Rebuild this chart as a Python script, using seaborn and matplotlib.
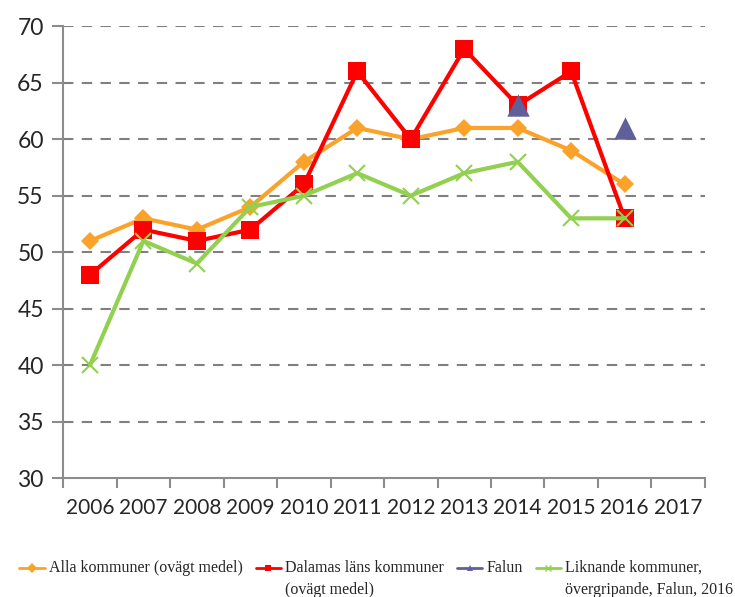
import matplotlib
matplotlib.use("Agg")
import matplotlib.pyplot as plt
from matplotlib.lines import Line2D
from matplotlib.legend_handler import HandlerLine2D
import seaborn as sns
import numpy as np
import pandas as pd

years = ["2006", "2007", "2008", "2009", "2010", "2011",
         "2012", "2013", "2014", "2015", "2016", "2017"]
alla = [51, 53, 52, 54, 58, 61, 60, 61, 61, 59, 56]
dalarna = [48, 52, 51, 52, 56, 66, 60, 68, 63, 66, 53]
falun_years = ["2014", "2016"]
falun = [63, 61]
liknande = [40, 51, 49, 54, 55, 57, 55, 57, 58, 53, 53]

# trailing newline keeps one-line labels level with the first line of the others
labels = ["Alla kommuner (ovägt medel)\n", "Dalamas läns kommuner\n(ovägt medel)",
          "Falun\n", "Liknande kommuner,\növergripande, Falun, 2016"]
colors = ["#FBA22A", "#FF0000", "#5F5F99", "#92D050"]


class TopLineHandler(HandlerLine2D):
    # lift legend handle to first text line
    def create_artists(self, legend, orig_handle, xdescent, ydescent, width,
                       height, fontsize, trans):
        arts = super().create_artists(legend, orig_handle, xdescent, ydescent,
                                      width, height, fontsize, trans)
        for a in arts:
            a.set_ydata(np.asarray(a.get_ydata()) + 0.72 * fontsize)
        return arts


sns.set_style("white")
plt.rcParams["font.family"] = ["Lato", "DejaVu Sans"]

fig = plt.figure(figsize=(7.35, 5.97), dpi=100)
ax = fig.add_axes([0.086, 0.199, 0.873, 0.757])

pos = {y: i for i, y in enumerate(years)}
df_alla = pd.DataFrame({"x": [pos[y] for y in years[:len(alla)]], "v": alla})
df_dal = pd.DataFrame({"x": [pos[y] for y in years[:len(dalarna)]], "v": dalarna})
df_lik = pd.DataFrame({"x": [pos[y] for y in years[:len(liknande)]], "v": liknande})
df_fal = pd.DataFrame({"x": [pos[y] for y in falun_years], "v": falun})

sns.lineplot(data=df_alla, x="x", y="v", ax=ax, color=colors[0], lw=3,
             marker="D", markersize=9, markeredgewidth=0, zorder=3)
sns.lineplot(data=df_dal, x="x", y="v", ax=ax, color=colors[1], lw=3,
             marker="s", markersize=13, markeredgewidth=0, zorder=4)
sns.lineplot(data=df_lik, x="x", y="v", ax=ax, color=colors[3], lw=3,
             marker="x", markersize=11, markeredgewidth=1.5,
             markeredgecolor=colors[3], zorder=5)
sns.scatterplot(data=df_fal, x="x", y="v", ax=ax, color=colors[2],
                marker="^", s=260, linewidth=0, zorder=6)

ax.set_xlim(-0.5, len(years) - 0.5)
ax.set_ylim(30, 70)
ax.set_xticks(range(len(years)))
ax.set_xticklabels(years)
ax.set_xticks(np.arange(-0.5, len(years), 1), minor=True)
ax.set_yticks(range(30, 71, 5))
ax.tick_params(axis="x", which="major", length=0, pad=14, labelsize=15)
ax.tick_params(axis="x", which="minor", length=7, width=1.5, color="#8C8C8C",
               direction="out", bottom=True)
ax.tick_params(axis="y", length=8, width=1.5, color="#8C8C8C", direction="out",
               left=True, labelsize=16.5, pad=6)
ax.set_xlabel("")
ax.set_ylabel("")

for s in ["top", "right"]:
    ax.spines[s].set_visible(False)
for s in ["left", "bottom"]:
    ax.spines[s].set_color("#8C8C8C")
    ax.spines[s].set_linewidth(1.5)

for yv in range(35, 71, 5):
    ax.axhline(yv, color="#808080", lw=1.5, ls=(0, (5, 4)), zorder=1)

handles = [
    Line2D([], [], color=colors[0], lw=2, marker="D", markersize=5, markeredgewidth=0),
    Line2D([], [], color=colors[1], lw=2, marker="s", markersize=5, markeredgewidth=0),
    Line2D([], [], color=colors[2], lw=2, marker="^", markersize=5, markeredgewidth=0),
    Line2D([], [], color=colors[3], lw=2, marker="x", markersize=5),
]
leg = fig.legend(handles, labels, loc="center", bbox_to_anchor=(0.512, 0.03), ncol=4,
                 frameon=False, prop={"family": "Liberation Serif", "size": 11.5},
                 handlelength=1.6, handletextpad=0.25, columnspacing=0.8,
                 handler_map={Line2D: TopLineHandler()})
for t in leg.get_texts():
    t.set_linespacing(1.5)

fig.savefig("out.png", dpi=100)
